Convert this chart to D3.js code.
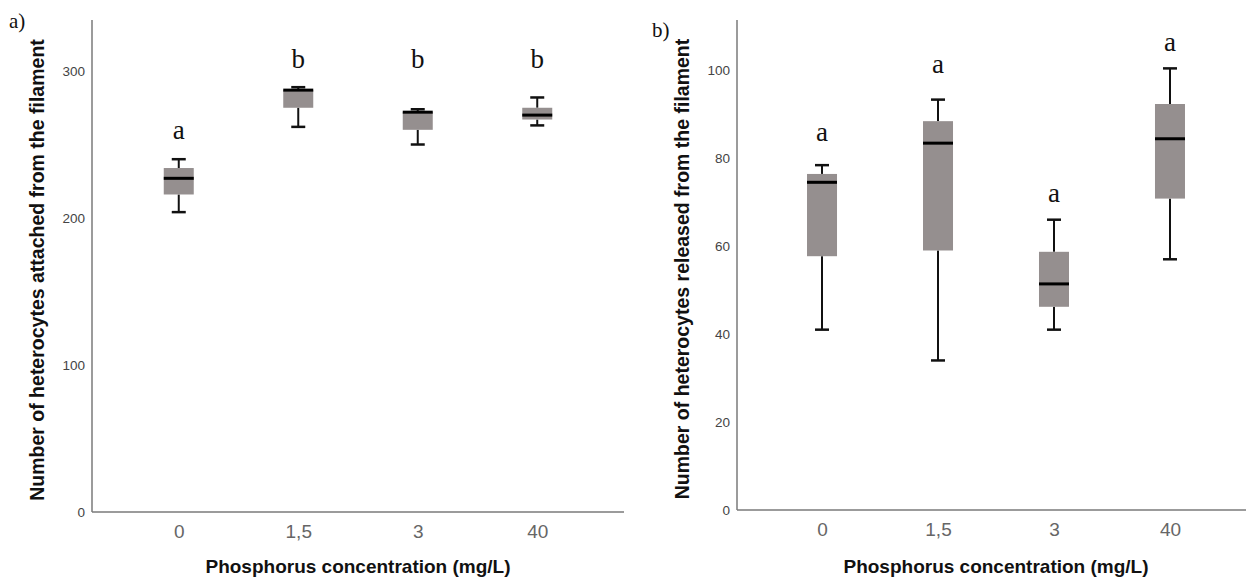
<!DOCTYPE html>
<html>
<head>
<meta charset="utf-8">
<script src="https://cdn.jsdelivr.net/npm/d3@7"></script>
<style>
  html, body { margin: 0; padding: 0; background: #fff; }
  svg { display: block; }
</style>
</head>
<body>
<svg id="chart" width="1248" height="579"></svg>
<script>
// ---------- DATA ----------
const categories = ["0", "1,5", "3", "40"];

// Panel a: heterocytes attached
const aWhiskerLow  = [204, 262, 250, 263];
const aQ1          = [216, 275, 260, 267];
const aMedian      = [227, 287, 272, 270];
const aQ3          = [234, 287, 272, 275];
const aWhiskerHigh = [240, 289, 274, 282];
const aLetters     = ["a", "b", "b", "b"];
const aLetterAt    = [254, 302, 302, 302];
const aTicks       = [0, 100, 200, 300];

// Panel b: heterocytes released
const bWhiskerLow  = [41, 34, 41, 57];
const bQ1          = [57.7, 59, 46.2, 70.8];
const bMedian      = [74.5, 83.4, 51.4, 84.4];
const bQ3          = [76.4, 88.4, 58.7, 92.3];
const bWhiskerHigh = [78.4, 93.3, 66, 100.4];
const bLetters     = ["a", "a", "a", "a"];
const bLetterAt    = [84, 99.3, 70, 104.3];
const bTicks       = [0, 20, 40, 60, 80, 100];

const xTitle = "Phosphorus concentration (mg/L)";

// ---------- DRAW ----------
const svg = d3.select("#chart");
const boxFill = "#958f8f";
const axisColor = "#7a7a7a";

function panel(cfg) {
  const g = svg.append("g");
  const x = d3.scalePoint().domain(categories).range([cfg.x0, cfg.x1]).padding(cfg.pad);
  const y = d3.scaleLinear().domain([0, cfg.yMax]).range([cfg.yBottom, cfg.yTop]);

  // axes lines
  g.append("line").attr("x1", cfg.x0).attr("x2", cfg.x0)
    .attr("y1", cfg.yTop).attr("y2", cfg.yBottom)
    .attr("stroke", axisColor).attr("stroke-width", 1.5);
  g.append("line").attr("x1", cfg.x0).attr("x2", Math.min(cfg.x1, 1246))
    .attr("y1", cfg.yBottom).attr("y2", cfg.yBottom)
    .attr("stroke", axisColor).attr("stroke-width", 1.5);

  // y tick labels via axis
  const yAxis = d3.axisLeft(y).tickValues(cfg.ticks).tickSize(0).tickPadding(7)
    .tickFormat(d3.format("d"));
  const ya = g.append("g").attr("transform", `translate(${cfg.x0},0)`).call(yAxis);
  ya.select(".domain").remove();
  ya.selectAll("text").attr("font-family", "Liberation Sans, Arial, sans-serif")
    .attr("font-size", 13.5).attr("fill", "#444");

  // x tick labels via axis
  const xAxis = d3.axisBottom(x).tickSize(0).tickPadding(13);
  const xa = g.append("g").attr("transform", `translate(0,${cfg.yBottom})`).call(xAxis);
  xa.select(".domain").remove();
  xa.selectAll("text").attr("font-family", "Liberation Sans, Arial, sans-serif")
    .attr("font-size", 19).attr("fill", "#666");

  const bw = 30, cw = 14;
  categories.forEach((c, i) => {
    const cx = x(c);
    // whisker lines
    g.append("line").attr("x1", cx).attr("x2", cx)
      .attr("y1", y(cfg.lo[i])).attr("y2", y(cfg.q1[i]))
      .attr("stroke", "#111").attr("stroke-width", 2);
    g.append("line").attr("x1", cx).attr("x2", cx)
      .attr("y1", y(cfg.q3[i])).attr("y2", y(cfg.hi[i]))
      .attr("stroke", "#111").attr("stroke-width", 2);
    // caps
    [cfg.lo[i], cfg.hi[i]].forEach(v => {
      g.append("line").attr("x1", cx - cw / 2).attr("x2", cx + cw / 2)
        .attr("y1", y(v)).attr("y2", y(v))
        .attr("stroke", "#111").attr("stroke-width", 2.5);
    });
    // box
    g.append("rect").attr("x", cx - bw / 2).attr("width", bw)
      .attr("y", y(cfg.q3[i])).attr("height", Math.max(1, y(cfg.q1[i]) - y(cfg.q3[i])))
      .attr("fill", boxFill);
    // median
    g.append("line").attr("x1", cx - bw / 2).attr("x2", cx + bw / 2)
      .attr("y1", y(cfg.med[i])).attr("y2", y(cfg.med[i]))
      .attr("stroke", "#000").attr("stroke-width", 3);
    // letters
    g.append("text").attr("x", cx).attr("y", y(cfg.letterAt[i]))
      .attr("text-anchor", "middle")
      .attr("font-family", "Liberation Serif, Times New Roman, serif")
      .attr("font-size", 27).attr("fill", "#111")
      .text(cfg.letters[i]);
  });

  // y title
  g.append("text")
    .attr("transform", `translate(${cfg.yTitleX},${(cfg.yTop + cfg.yBottom) / 2 + 4}) rotate(-90)`)
    .attr("text-anchor", "middle")
    .attr("font-family", "Liberation Sans, Arial, sans-serif")
    .attr("font-weight", "bold").attr("font-size", 19.5).attr("fill", "#111")
    .text(cfg.yTitle);

  // x title
  const r = x.range();
  g.append("text").attr("x", (r[0] + r[1]) / 2).attr("y", 573)
    .attr("text-anchor", "middle")
    .attr("font-family", "Liberation Sans, Arial, sans-serif")
    .attr("font-weight", "bold").attr("font-size", 19).attr("fill", "#111")
    .text(xTitle);

  // panel label
  g.append("text").attr("x", cfg.labelX).attr("y", cfg.labelY)
    .attr("font-family", "Liberation Serif, Times New Roman, serif")
    .attr("font-size", 21).attr("fill", "#111")
    .text(cfg.label);
}

panel({
  x0: 92, x1: 624, pad: 0.726, yTop: 20, yBottom: 512, yMax: 334.7,
  ticks: aTicks, lo: aWhiskerLow, q1: aQ1, med: aMedian, q3: aQ3, hi: aWhiskerHigh,
  letters: aLetters, letterAt: aLetterAt,
  yTitle: "Number of heterocytes attached from the filament", yTitleX: 44,
  label: "a)", labelX: 9, labelY: 28
});

panel({
  x0: 737, x1: 1255, pad: 0.733, yTop: 20, yBottom: 510, yMax: 111.4,
  ticks: bTicks, lo: bWhiskerLow, q1: bQ1, med: bMedian, q3: bQ3, hi: bWhiskerHigh,
  letters: bLetters, letterAt: bLetterAt,
  yTitle: "Number of heterocytes released from the filament", yTitleX: 689,
  label: "b)", labelX: 652, labelY: 37
});
</script>
</body>
</html>
